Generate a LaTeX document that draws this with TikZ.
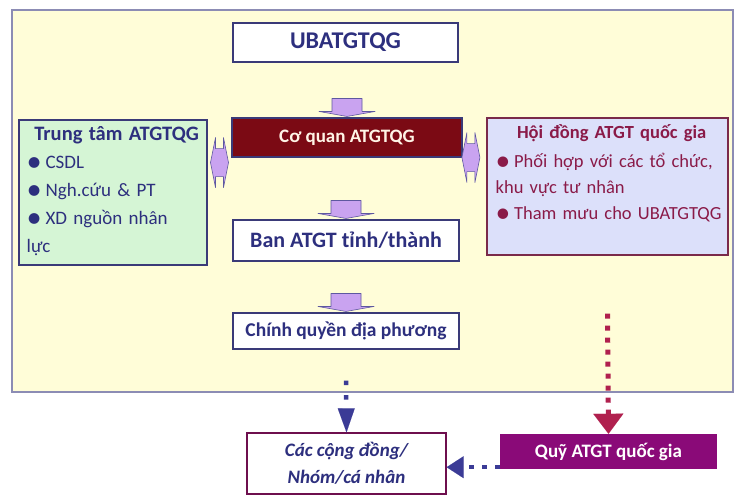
\documentclass[tikz,border=0pt]{standalone}
\usepackage{fontspec}
\setmainfont{Carlito}
\usetikzlibrary{arrows.meta,calc}

\definecolor{framefill}{HTML}{FFFDD8}
\definecolor{frameline}{HTML}{8C8CB4}
\definecolor{navytext}{HTML}{2D2F7E}
\definecolor{navyline}{HTML}{3A3A78}
\definecolor{cqfill}{HTML}{7B0A14}
\definecolor{cqtext}{HTML}{FFF4E6}
\definecolor{greenfill}{HTML}{D5F5D5}
\definecolor{hdfill}{HTML}{DCE0FA}
\definecolor{hdline}{HTML}{7A2A4A}
\definecolor{hdtext}{HTML}{8A1A48}
\definecolor{cdline}{HTML}{6E0F4E}
\definecolor{qyfill}{HTML}{8A0A78}
\definecolor{arrowfill}{HTML}{C9A3F0}
\definecolor{arrowline}{HTML}{5E58A0}
\definecolor{bluedot}{HTML}{3B3B96}
\definecolor{reddot}{HTML}{B0204E}

\newcommand\bul{\raisebox{-0.15em}{\scalebox{1.6}{•}}\hspace{0.2em}}

% flat block arrow sitting on top of a node
\newcommand\downblock[1]{%
  \draw[blockarrow] ($(#1.north)+(-15,-19)$) -- ++(30,0) -- ++(0,13) -- ++(13,0)
    -- ++(-28,5) -- ++(-28,-5) -- ++(13,0) -- cycle;}
% thin two-way block arrow between side boxes
\newcommand\sideblock[1]{%
  \draw[blockarrow] ($(#1)+(-4,-14)$) -- ++(0,-11) -- ++(-5,25) -- ++(5,25) -- ++(0,-11)
    -- ++(8,0) -- ++(0,11) -- ++(5,-25) -- ++(-5,-25) -- ++(0,11) -- cycle;}

\begin{document}
\begin{tikzpicture}[x=1pt,y=-1pt,
  plainbox/.style={draw=navyline,line width=1.1pt,fill=white,text=navytext,
    font=\bfseries\fontsize{19.5}{24}\selectfont,inner sep=0pt},
  darkbox/.style={draw=navyline,line width=1.1pt,fill=cqfill,text=cqtext,
    font=\bfseries\fontsize{19}{22}\selectfont,inner sep=0pt},
  listtext/.style={inner sep=0pt,anchor=north west,align=left,
    font=\fontsize{19}{28}\selectfont},
  blockarrow/.style={fill=arrowfill,draw=arrowline,line width=0.6pt,line join=round},
  bluedots/.style={draw=bluedot,line width=4.5pt,dash pattern=on 4.5pt off 10pt},
  reddots/.style={draw=reddot,line width=5pt,dash pattern=on 5pt off 7pt}]

  % background and frame
  \fill[white] (0,0) rectangle (735,496);
  \fill[framefill] (12,10) rectangle (733,392);
  \draw[frameline,line width=1.5pt] (12,10) rectangle (733,392);

  % central column
  \node[plainbox,minimum width=225,minimum height=39,
    font=\bfseries\fontsize{24}{26}\selectfont] (ub) at (345.5,42.5) {UBATGTQG};
  \node[darkbox,minimum width=230,minimum height=39] (cq) at (347,137.5) {Cơ quan ATGTQG};
  \node[plainbox,minimum width=226,minimum height=41,
    font=\bfseries\fontsize{22}{24}\selectfont] (ban) at (346,240.5) {Ban ATGT tỉnh/thành};
  \node[plainbox,minimum width=226,minimum height=36] (cp) at (346,331) {Chính quyền địa phương};

  % side boxes
  \node[draw=navyline,line width=1.1pt,fill=greenfill,minimum width=188,minimum height=145,
    inner sep=0pt] (tt) at (113,192.5) {};
  \node[listtext,text=navytext,text width=180] (tttext) at ($(tt.north west)+(8,7)$)
    {{\centering\fontsize{20.5}{24}\selectfont\bfseries Trung tâm ATGTQG\par}
     \bul CSDL\\ \bul Ngh.cứu \& PT\\ \bul XD nguồn nhân\\ lực};
  \node[draw=hdline,line width=1.1pt,fill=hdfill,minimum width=241,minimum height=137,
    inner sep=0pt] (hd) at (607.5,186.5) {};
  \node[listtext,text=hdtext,text width=232,font=\fontsize{18.5}{26}\selectfont]
    (hdtext) at ($(hd.north west)+(9,7)$)
    {{\centering\fontsize{18.5}{22}\selectfont\bfseries Hội đồng ATGT quốc gia\par}
     \vspace{3pt}\bul Phối hợp với các tổ chức,\\ khu vực tư nhân\\ \bul Tham mưu cho UBATGTQG};

  % bottom boxes
  \node[draw=cdline,line width=1.3pt,fill=white,text=navytext,minimum width=199,
    minimum height=61,inner sep=0pt,align=center,
    font=\bfseries\itshape\fontsize{19}{27}\selectfont] (cd) at (346.5,463.5)
    {Các cộng đồng/\\Nhóm/cá nhân};
  \node[fill=qyfill,text=white,minimum width=217,minimum height=35,inner sep=0pt,
    font=\bfseries\fontsize{19}{22}\selectfont] (qy) at (608.5,451.5) {Quỹ ATGT quốc gia};

  % block arrows
  \downblock{cq}
  \downblock{ban}
  \downblock{cp}
  \coordinate (lj) at ($(tt.east |- cq.south)!.5!(cq.south west)+(0,5)$);
  \coordinate (rj) at ($(cq.south east)!.35!(hd.west |- cq.south)$);
  \sideblock{lj}
  \sideblock{rj}

  % dotted links
  \draw[bluedots,-{Triangle[width=17pt,length=24pt,line width=0.1pt]}]
    ($(cp.south)+(0,31)$) -- (cd.north);
  \draw[reddots,-{Triangle[width=30pt,length=20pt,line width=0.1pt]}]
    ($(hd.south)+(0,58)$) -- (qy.north);
  \coordinate (qa) at ($(qy.south west)+(0,-2)$);
  \draw[bluedots,dash pattern=on 4.5pt off 8.5pt,
    -{Triangle[width=22pt,length=17pt,line width=0.1pt]}]
    (qa) -- (qa -| cd.east);
\end{tikzpicture}
\end{document}
